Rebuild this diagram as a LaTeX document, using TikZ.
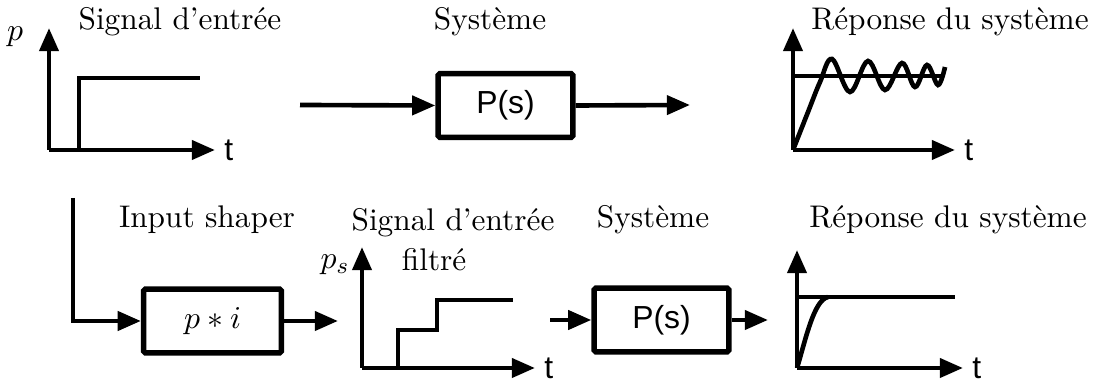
\documentclass[tikz,border=0pt]{standalone}
\usepackage{fontspec}
\newfontfamily\arialfont{Liberation Sans}
\usetikzlibrary{arrows.meta,positioning}

\tikzset{
  lw/.style={line width=1.6pt},
  ax/.style={lw,-{Triangle[length=8pt,width=6.5pt]}},
  blok/.style={draw,line width=1.9pt,rounded corners=0.6pt,minimum width=46.5pt,minimum height=22pt,inner sep=0pt},
  ttl/.style={inner sep=0pt,font=\fontsize{10.8}{13.8}\selectfont},
  tlab/.style={inner sep=0pt,font=\arialfont\fontsize{11}{13}\selectfont}
}

\begin{document}
\begin{tikzpicture}[x=0.345pt,y=-0.345pt]
	 \useasboundingbox (0,0) rectangle (1094,381);
	 % ligne du haut
	 \coordinate (O1) at (49,150);
	 \coordinate (Y1) at (49,28);
	 \coordinate (X1) at (215,150);
	 \coordinate (O2) at (793,150);
	 \coordinate (Y2) at (793,28);
	 \coordinate (X2) at (955,150);
	 \coordinate (in1) at (300,105);
	 \coordinate (out1) at (690,105);
	 \foreach \o/\y/\x in {O1/Y1/X1,O2/Y2/X2} {
	   \draw[ax] (\o) -- (\y);
	   \draw[ax] (\o) -- (\x);
	 }
	 \node[tlab] (t1) at (X1) [right=3pt] {t};
	 \node[tlab] (t2) at (X2) [right=3pt] {t};
	 \node[ttl] (p1) at (15,37) {$p$};
	 \draw[lw] (79,150) -- (79,78) -- (200,78);
	 \draw[lw] (793,76) -- (943,76);
	 \draw[lw] plot[smooth,tension=0.6] coordinates {(793,150) (808,112) (820,82) (832,59) (850,92) (868,61) (885,90) (902,63) (915,87) (927,65) (938,85) (945,67)};
	 \node[blok] (sys1) at (505.5,105.5) {\arialfont\fontsize{11}{13}\selectfont P(s)};
	 \draw[ax] (in1) -- (sys1.west);
	 \draw[ax] (sys1.east) -- (out1);
	 \node[ttl] (tt1) at (180,22) {Signal d'entrée};
	 \node[ttl] (tt2) at (490,22) {Système};
	 \node[ttl] (tt3) at (950,22) {Réponse du système};
	 % ligne du bas
	 \coordinate (O3) at (362,368);
	 \coordinate (Y3) at (362,247);
	 \coordinate (X3) at (535,368);
	 \coordinate (O4) at (797,368);
	 \coordinate (Y4) at (797,250);
	 \coordinate (X4) at (963,368);
	 \coordinate (s0) at (73,198);
	 \coordinate (out2) at (338,321);
	 \coordinate (in3) at (550,320);
	 \coordinate (out3) at (768,320);
	 \foreach \o/\y/\x in {O3/Y3/X3,O4/Y4/X4} {
	   \draw[ax] (\o) -- (\y);
	   \draw[ax] (\o) -- (\x);
	 }
	 \node[tlab] (t3) at (X3) [right=3pt] {t};
	 \node[tlab] (t4) at (X4) [right=3pt] {t};
	 \node[ttl] (p2) at (335,265) {$p_s$};
	 \draw[lw] (398,368) -- (398,330) -- (437,330) -- (437,300) -- (513,300);
	 \draw[lw] (797,297) -- (955,297);
	 \draw[lw] (797,368) .. controls (806,338) and (814,300) .. (828,297);
	 \node[blok,minimum width=47.5pt] (shp) at (212.5,321) {\fontsize{10.8}{13}\selectfont$p*i$};
	 \node[blok] (sys2) at (661.5,320) {\arialfont\fontsize{11}{13}\selectfont P(s)};
	 \draw[ax] (s0) |- (shp.west);
	 \draw[ax] (shp.east) -- (out2);
	 \draw[ax] (in3) -- (sys2.west);
	 \draw[ax] (sys2.east) -- (out3);
	 \node[ttl] (tt4) at (207,220) {Input shaper};
	 \node[ttl,align=center] (tt5) at (453,240) {Signal d'entrée\\filtré\hspace*{13pt}};
	 \node[ttl] (tt6) at (653,220) {Système};
	 \node[ttl] (tt7) at (948,220) {Réponse du système};
\end{tikzpicture}
\end{document}
